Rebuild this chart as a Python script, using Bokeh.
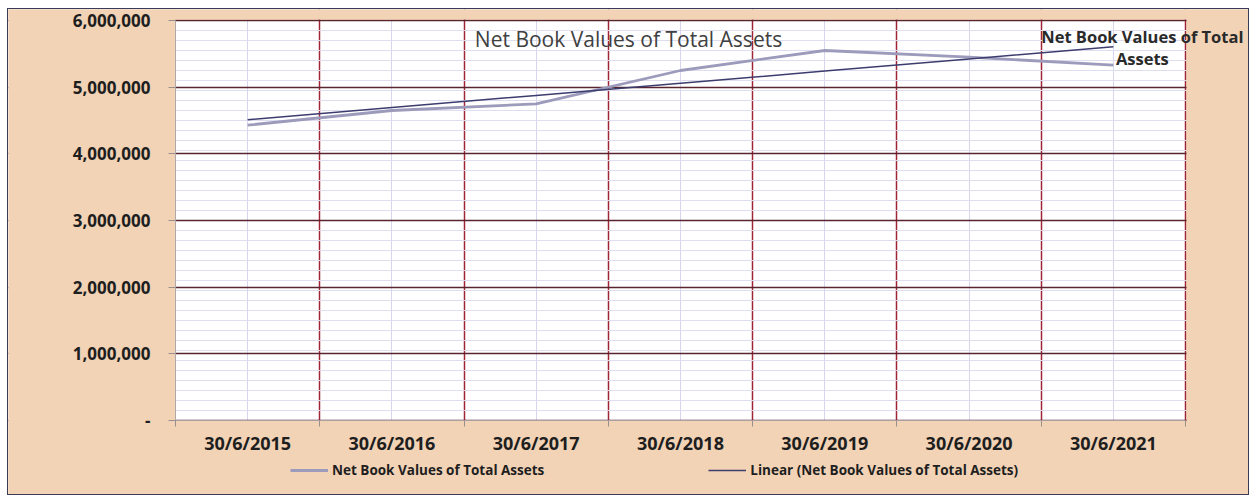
import numpy as np
from bokeh.plotting import figure
from bokeh.models import (Range1d, FixedTicker, NumeralTickFormatter, Legend,
                          LegendItem, Label, ColumnDataSource, BoxAnnotation)
from bokeh.embed import file_html
from bokeh.resources import INLINE

# ---- data ----
categories = ["30/6/2015", "30/6/2016", "30/6/2017", "30/6/2018",
              "30/6/2019", "30/6/2020", "30/6/2021"]
values = [4430000, 4650000, 4750000, 5250000, 5550000, 5450000, 5330000]
series_name = "Net Book Values of Total Assets"
trend_name = "Linear (Net Book Values of Total Assets)"
data_label = "Net Book Values of Total\nAssets"
y_ticks = [0, 1000000, 2000000, 3000000, 4000000, 5000000, 6000000]

n = len(categories)
idx = np.arange(n)
xs = idx + 0.5
coef = np.polyfit(idx, values, 1)
trend = np.polyval(coef, idx)
src = ColumnDataSource(dict(x=xs, y=values, t=trend))

# ---- layout constants (canvas pixels) ----
FONT = "Open Sans"
BG = "#f2d3b6"
W, H = 1242, 487
PL, PR, PT, PB = 167, 1177, 11, 411          # white plot area inside the canvas
y_max = y_ticks[-1]
sx = n / (PR - PL)                            # x data units per pixel
sy = y_max / (PB - PT)                        # y data units per pixel

# the frame fills the whole canvas, so no text gets clipped
p = figure(width=W, height=H,
           x_range=Range1d(-PL * sx, n + (W - PR) * sx),
           y_range=Range1d(-(H - PB) * sy, y_max + PT * sy),
           output_backend="svg", toolbar_location=None,
           min_border_left=0, min_border_right=0,
           min_border_top=0, min_border_bottom=0)
p.styles = {"border": "1px solid #3a3a5a", "margin-left": "7px", "margin-top": "8px"}
p.background_fill_color = BG
p.border_fill_color = BG
p.outline_line_color = None

# white plot area
p.add_layout(BoxAnnotation(left=0, right=n, bottom=0, top=y_max,
                           fill_color="white", fill_alpha=1, line_color=None,
                           level="image"))

# x axis (drawn at y = 0)
p.xaxis.fixed_location = 0
p.xaxis.bounds = (0, n)
p.xaxis.ticker = FixedTicker(ticks=list(xs), minor_ticks=list(range(n + 1)))
p.xaxis.major_label_overrides = {float(x): c for x, c in zip(xs, categories)}
p.xaxis.major_tick_line_color = None
p.xaxis.minor_tick_line_color = "#9a9090"
p.xaxis.minor_tick_out = 6
p.xaxis.minor_tick_in = 0
p.xaxis.axis_line_color = "#a8a0a0"
p.xaxis.major_label_standoff = 4
p.xaxis.major_label_text_font = FONT
p.xaxis.major_label_text_font_style = "bold"
p.xaxis.major_label_text_font_size = "18px"
p.xaxis.major_label_text_color = "#1e1e1e"

# y axis (drawn at x = 0)
p.yaxis.fixed_location = 0
p.yaxis.bounds = (0, y_max)
p.yaxis.ticker = FixedTicker(ticks=y_ticks,
                             minor_ticks=list(range(0, y_max + 1, 150000)))
p.yaxis.formatter = NumeralTickFormatter(format="0,0")
p.yaxis.major_label_overrides = {0: "-"}
p.yaxis.major_tick_line_color = "#9a9090"
p.yaxis.major_tick_out = 7
p.yaxis.major_tick_in = 0
p.yaxis.minor_tick_line_color = None
p.yaxis.axis_line_color = "#b0a8a8"
p.yaxis.major_label_standoff = 18
p.yaxis.major_label_text_font = FONT
p.yaxis.major_label_text_font_style = "bold"
p.yaxis.major_label_text_font_size = "17px"
p.yaxis.major_label_text_color = "#1e1e1e"

# grids
p.xgrid.ticker = FixedTicker(ticks=list(range(1, n + 1)), minor_ticks=list(xs))
p.xgrid.grid_line_color = "#a02538"
p.xgrid.grid_line_width = 1.5
p.xgrid.minor_grid_line_color = "#d6d6ee"
p.ygrid.grid_line_color = "#5a2530"
p.ygrid.grid_line_width = 1.5
p.ygrid.minor_grid_line_color = "#dedef0"
p.ygrid.minor_grid_line_width = 1

# hide the grid outside the plot area
for kw in (dict(right=-0.5 * sx), dict(left=n + sx),
           dict(bottom=y_max + sy), dict(top=-0.5 * sy)):
    p.add_layout(BoxAnnotation(fill_color=BG, fill_alpha=1, line_color=None,
                               level="glyph", **kw))

# lines
r_series = p.line("x", "y", source=src, line_color="#9d9bbb", line_width=2.8)
r_trend = p.line("x", "t", source=src, line_color="#3c3c6e", line_width=1.5)

# legend under the category labels
lg = Legend(items=[LegendItem(label=series_name, renderers=[r_series]),
                   LegendItem(label=trend_name, renderers=[r_trend])],
            location=(282, 17), orientation="horizontal",
            background_fill_alpha=0, border_line_color=None,
            padding=0, margin=0, spacing=164,
            glyph_width=38, glyph_height=12, label_height=12,
            label_standoff=4,
            label_text_font=FONT, label_text_font_style="bold",
            label_text_font_size="13.5px", label_text_color="#1e1e1e")
p.add_layout(lg)

# chart title
p.add_layout(Label(x=620, y=H - 29, x_units="screen", y_units="screen",
                   text=series_name, text_align="center", text_baseline="middle",
                   text_font=FONT, text_font_size="21px", text_color="#404040"))

# data label at last point
p.add_layout(Label(x=xs[-1], y=values[-1], x_offset=29, y_offset=18,
                   text=data_label, text_align="center", text_baseline="middle",
                   text_font=FONT, text_font_style="bold", text_font_size="16.5px",
                   text_color="#2a2a2a", text_line_height=0.97))

open("out.html", "w").write(file_html(p, INLINE))
